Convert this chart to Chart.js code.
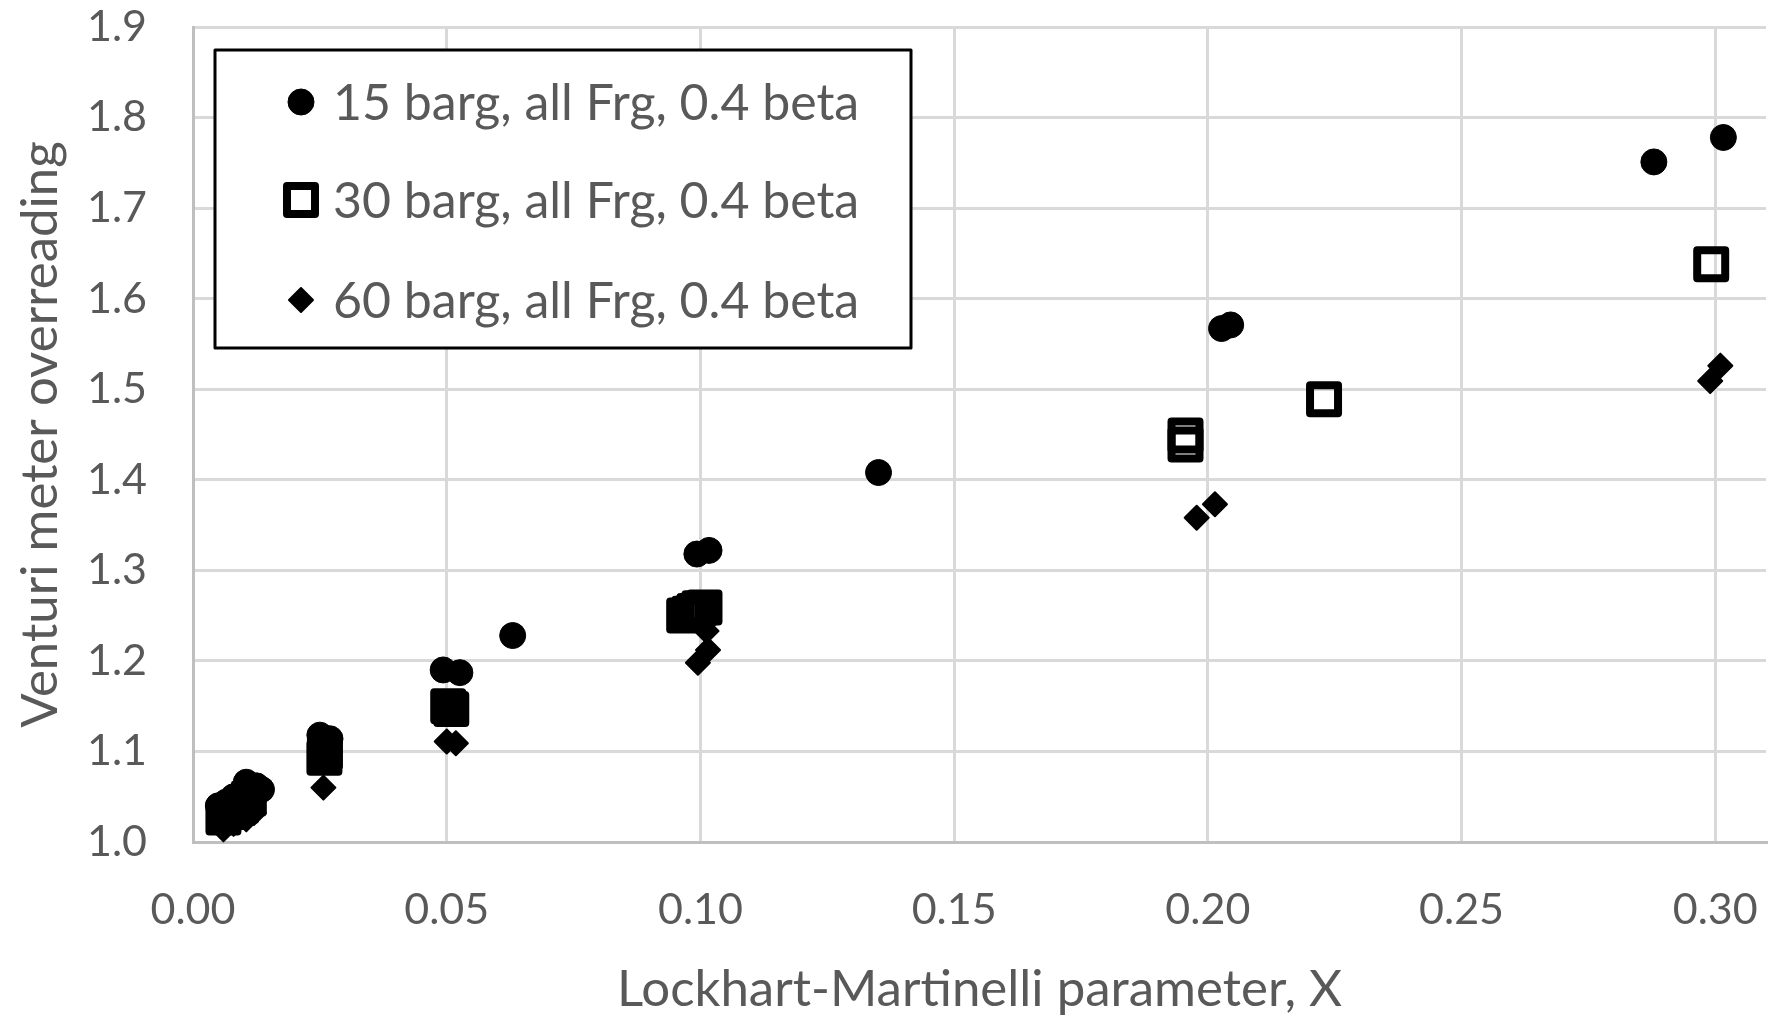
<!DOCTYPE html>
<html>
<head>
<meta charset="utf-8">
<title>Venturi meter overreading</title>
<script src="https://cdn.jsdelivr.net/npm/chart.js@4.4.1/dist/chart.umd.min.js"></script>
<style>
  html, body { margin: 0; padding: 0; background: #fff; }
  #wrap { width: 1773px; height: 1015px; }
</style>
</head>
<body>
<div id="wrap"><canvas id="chart" width="1773" height="1015"></canvas></div>
<script>
// Series (X = Lockhart-Martinelli parameter, Y = overreading)
// Some 15 barg points sit right under the (unfilled) 30 barg squares, which is why those squares look solid.
const seriesNames = ['15 barg, all Frg, 0.4 beta', '30 barg, all Frg, 0.4 beta', '60 barg, all Frg, 0.4 beta'];

const x15 = [0.0050, 0.0060, 0.0065, 0.0080, 0.0095, 0.0095, 0.0105, 0.0125, 0.0135, 0.0250, 0.0260, 0.0270, 0.0493, 0.0506, 0.0526, 0.0630, 0.0993, 0.1017, 0.1351, 0.2027, 0.2045, 0.2879, 0.3016];
const y15 = [1.040, 1.027, 1.044, 1.050, 1.040, 1.055, 1.066, 1.062, 1.058, 1.118, 1.095, 1.114, 1.190, 1.148, 1.187, 1.228, 1.318, 1.322, 1.408, 1.567, 1.571, 1.751, 1.778];

const x30 = [0.0060, 0.0075, 0.0095, 0.0110, 0.0259, 0.0260, 0.0503, 0.0509, 0.0968, 0.0978, 0.0988, 0.0998, 0.1008, 0.1956, 0.1956, 0.2229, 0.2992];
const y30 = [1.027, 1.033, 1.040, 1.048, 1.093, 1.099, 1.150, 1.147, 1.250, 1.252, 1.255, 1.258, 1.259, 1.449, 1.439, 1.489, 1.638];

const x60 = [0.0060, 0.0080, 0.0105, 0.0120, 0.0257, 0.0500, 0.0518, 0.0995, 0.1015, 0.1012, 0.1978, 0.2014, 0.2990, 0.3010];
const y60 = [1.014, 1.020, 1.025, 1.032, 1.060, 1.111, 1.109, 1.198, 1.212, 1.233, 1.358, 1.373, 1.509, 1.526];

const xTicks = [0.00, 0.05, 0.10, 0.15, 0.20, 0.25, 0.30];
const yTicks = [1.0, 1.1, 1.2, 1.3, 1.4, 1.5, 1.6, 1.7, 1.8, 1.9];

const textGray = '#595959';
const fontFamily = 'Lato, "Open Sans", sans-serif';
const labelSize = 51;
const legendSize = 50;
const tickSize = 43;

function toPoints(xs, ys) {
    return xs.map((x, i) => ({ x: x, y: ys[i] }));
}

// Marker styles (squares have no fill, as in Excel)
const markerStyles = [
    { pointStyle: 'circle', radius: 13, backgroundColor: '#000', borderColor: '#000', borderWidth: 1 },
    { pointStyle: 'rect', radius: 19.8, backgroundColor: 'rgba(0,0,0,0)', borderColor: '#000', borderWidth: 8 },
    { pointStyle: 'rectRot', radius: 12, backgroundColor: '#000', borderColor: '#000', borderWidth: 2 }
];

const seriesData = [toPoints(x15, y15), toPoints(x30, y30), toPoints(x60, y60)];

const datasets = seriesData.map((pts, i) => ({
    label: seriesNames[i],
    data: pts,
    showLine: false,
    clip: false,
    pointStyle: markerStyles[i].pointStyle,
    pointRadius: markerStyles[i].radius,
    pointHoverRadius: markerStyles[i].radius,
    pointBackgroundColor: markerStyles[i].backgroundColor,
    pointBorderColor: markerStyles[i].borderColor,
    pointBorderWidth: markerStyles[i].borderWidth
}));

// Draws the boxed legend inside the plot, like the Excel original
const boxLegend = {
    id: 'boxLegend',
    beforeDatasetsDraw(chart) {
        chart.ctx.lineJoin = 'round';
    },
    afterDatasetsDraw(chart) {
        const ctx = chart.ctx;
        const box = { left: 215, top: 50, right: 911, bottom: 348 };
        const rows = [102, 200, 300];
        ctx.save();
        ctx.fillStyle = '#fff';
        ctx.fillRect(box.left, box.top, box.right - box.left, box.bottom - box.top);
        ctx.lineWidth = 3;
        ctx.strokeStyle = '#000';
        ctx.strokeRect(box.left, box.top, box.right - box.left, box.bottom - box.top);

        seriesNames.forEach((name, i) => {
            const m = markerStyles[i];
            ctx.save();
            ctx.lineJoin = 'round';
            ctx.fillStyle = m.backgroundColor;
            ctx.strokeStyle = m.borderColor;
            ctx.lineWidth = m.borderWidth;
            Chart.helpers.drawPoint(ctx, { pointStyle: m.pointStyle, radius: m.radius, rotation: 0, borderWidth: m.borderWidth }, 301, rows[i]);
            ctx.restore();

            ctx.fillStyle = textGray;
            ctx.font = legendSize + 'px ' + fontFamily;
            ctx.textBaseline = 'middle';
            ctx.textAlign = 'left';
            ctx.fillText(name, 333, rows[i] + 2);
        });
        ctx.restore();
    }
};

const ctx = document.getElementById('chart');
new Chart(ctx, {
    type: 'scatter',
    data: { datasets: datasets },
    plugins: [boxLegend],
    options: {
        responsive: false,
        animation: false,
        events: [],
        layout: { autoPadding: false, padding: { left: 0, right: 7, top: 27, bottom: 0 } },
        plugins: {
            legend: { display: false },
            tooltip: { enabled: false }
        },
        scales: {
            x: {
                type: 'linear',
                min: 0,
                max: 0.31,
                afterBuildTicks(scale) {
                    scale.ticks = xTicks.map(v => ({ value: v }));
                },
                afterFit(scale) {
                    scale.height = 173;
                    scale.paddingLeft = 0;
                    scale.paddingRight = 0;
                },
                grid: { color: '#d9d9d9', lineWidth: 3, drawTicks: false },
                border: { color: '#bfbfbf', width: 3 },
                ticks: {
                    padding: 42,
                    color: textGray,
                    font: { family: fontFamily, size: tickSize },
                    maxRotation: 0,
                    callback: v => Number(v).toFixed(2)
                },
                title: {
                    display: true,
                    text: 'Lockhart-Martinelli parameter, X',
                    color: textGray,
                    font: { family: fontFamily, size: labelSize, lineHeight: 1 },
                    padding: { top: 0, bottom: 0 }
                }
            },
            y: {
                type: 'linear',
                min: 1.0,
                max: 1.9,
                afterBuildTicks(scale) {
                    scale.ticks = yTicks.map(v => ({ value: v }));
                },
                afterFit(scale) {
                    scale.width = 193;
                    scale.paddingTop = 0;
                    scale.paddingBottom = 0;
                },
                grid: { color: '#d9d9d9', lineWidth: 3, drawTicks: false },
                border: { color: '#bfbfbf', width: 3 },
                ticks: {
                    padding: 46,
                    color: textGray,
                    font: { family: fontFamily, size: tickSize },
                    callback: v => Number(v).toFixed(1)
                },
                title: {
                    display: true,
                    text: 'Venturi meter overreading',
                    color: textGray,
                    font: { family: fontFamily, size: labelSize, lineHeight: 1 },
                    padding: { top: 15, bottom: 0 }
                }
            }
        }
    }
});
</script>
</body>
</html>
